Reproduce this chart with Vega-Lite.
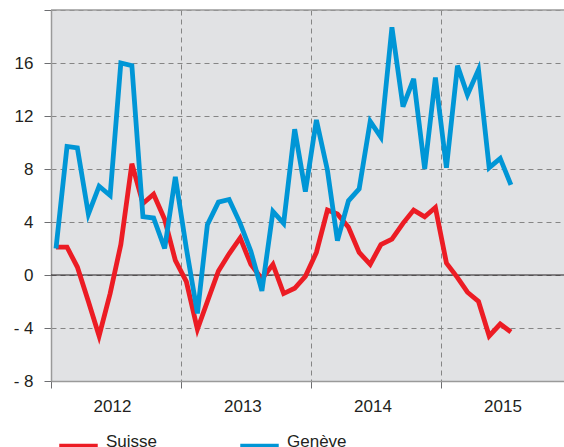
{
  "$schema": "https://vega.github.io/schema/vega-lite/v6.json",
  "width": 513,
  "height": 371,
  "autosize": "none",
  "padding": {"left": 51, "top": 10, "right": 0, "bottom": 66},
  "background": "white",
  "config": {"view": {"fill": "#e1e2e4", "stroke": null}, "font": "Liberation Sans"},
  "data": {"values": [
    {"date": "2012-01-15", "series": "Suisse", "value": 2.1},
    {"date": "2012-02-15", "series": "Suisse", "value": 2.1},
    {"date": "2012-03-15", "series": "Suisse", "value": 0.6},
    {"date": "2012-04-15", "series": "Suisse", "value": -2.0},
    {"date": "2012-05-15", "series": "Suisse", "value": -4.6},
    {"date": "2012-06-15", "series": "Suisse", "value": -1.4},
    {"date": "2012-07-15", "series": "Suisse", "value": 2.3},
    {"date": "2012-08-15", "series": "Suisse", "value": 8.4},
    {"date": "2012-09-15", "series": "Suisse", "value": 5.4},
    {"date": "2012-10-15", "series": "Suisse", "value": 6.1},
    {"date": "2012-11-15", "series": "Suisse", "value": 4.2},
    {"date": "2012-12-15", "series": "Suisse", "value": 1.1},
    {"date": "2013-01-15", "series": "Suisse", "value": -0.5},
    {"date": "2013-02-15", "series": "Suisse", "value": -4.1},
    {"date": "2013-03-15", "series": "Suisse", "value": -2.0},
    {"date": "2013-04-15", "series": "Suisse", "value": 0.3},
    {"date": "2013-05-15", "series": "Suisse", "value": 1.6},
    {"date": "2013-06-15", "series": "Suisse", "value": 2.8},
    {"date": "2013-07-15", "series": "Suisse", "value": 0.8},
    {"date": "2013-08-15", "series": "Suisse", "value": -0.3},
    {"date": "2013-09-15", "series": "Suisse", "value": 0.8},
    {"date": "2013-10-15", "series": "Suisse", "value": -1.4},
    {"date": "2013-11-15", "series": "Suisse", "value": -1.0},
    {"date": "2013-12-15", "series": "Suisse", "value": -0.1},
    {"date": "2014-01-15", "series": "Suisse", "value": 1.7},
    {"date": "2014-02-15", "series": "Suisse", "value": 4.9},
    {"date": "2014-03-15", "series": "Suisse", "value": 4.6},
    {"date": "2014-04-15", "series": "Suisse", "value": 3.6},
    {"date": "2014-05-15", "series": "Suisse", "value": 1.7},
    {"date": "2014-06-15", "series": "Suisse", "value": 0.8},
    {"date": "2014-07-15", "series": "Suisse", "value": 2.3},
    {"date": "2014-08-15", "series": "Suisse", "value": 2.7},
    {"date": "2014-09-15", "series": "Suisse", "value": 3.9},
    {"date": "2014-10-15", "series": "Suisse", "value": 4.9},
    {"date": "2014-11-15", "series": "Suisse", "value": 4.4},
    {"date": "2014-12-15", "series": "Suisse", "value": 5.1},
    {"date": "2015-01-15", "series": "Suisse", "value": 0.9},
    {"date": "2015-02-15", "series": "Suisse", "value": -0.2},
    {"date": "2015-03-15", "series": "Suisse", "value": -1.3},
    {"date": "2015-04-15", "series": "Suisse", "value": -2.0},
    {"date": "2015-05-15", "series": "Suisse", "value": -4.6},
    {"date": "2015-06-15", "series": "Suisse", "value": -3.7},
    {"date": "2015-07-15", "series": "Suisse", "value": -4.3},
    {"date": "2012-01-15", "series": "Genève", "value": 2.0},
    {"date": "2012-02-15", "series": "Genève", "value": 9.7},
    {"date": "2012-03-15", "series": "Genève", "value": 9.6},
    {"date": "2012-04-15", "series": "Genève", "value": 4.6},
    {"date": "2012-05-15", "series": "Genève", "value": 6.7},
    {"date": "2012-06-15", "series": "Genève", "value": 6.0},
    {"date": "2012-07-15", "series": "Genève", "value": 16.0},
    {"date": "2012-08-15", "series": "Genève", "value": 15.8},
    {"date": "2012-09-15", "series": "Genève", "value": 4.4},
    {"date": "2012-10-15", "series": "Genève", "value": 4.3},
    {"date": "2012-11-15", "series": "Genève", "value": 2.0},
    {"date": "2012-12-15", "series": "Genève", "value": 7.4},
    {"date": "2013-01-15", "series": "Genève", "value": 2.0},
    {"date": "2013-02-15", "series": "Genève", "value": -2.9},
    {"date": "2013-03-15", "series": "Genève", "value": 3.8},
    {"date": "2013-04-15", "series": "Genève", "value": 5.5},
    {"date": "2013-05-15", "series": "Genève", "value": 5.7},
    {"date": "2013-06-15", "series": "Genève", "value": 3.9},
    {"date": "2013-07-15", "series": "Genève", "value": 1.8},
    {"date": "2013-08-15", "series": "Genève", "value": -1.2},
    {"date": "2013-09-15", "series": "Genève", "value": 4.8},
    {"date": "2013-10-15", "series": "Genève", "value": 3.9},
    {"date": "2013-11-15", "series": "Genève", "value": 11.0},
    {"date": "2013-12-15", "series": "Genève", "value": 6.3},
    {"date": "2014-01-15", "series": "Genève", "value": 11.7},
    {"date": "2014-02-15", "series": "Genève", "value": 7.9},
    {"date": "2014-03-15", "series": "Genève", "value": 2.6},
    {"date": "2014-04-15", "series": "Genève", "value": 5.6},
    {"date": "2014-05-15", "series": "Genève", "value": 6.5},
    {"date": "2014-06-15", "series": "Genève", "value": 11.6},
    {"date": "2014-07-15", "series": "Genève", "value": 10.4},
    {"date": "2014-08-15", "series": "Genève", "value": 18.7},
    {"date": "2014-09-15", "series": "Genève", "value": 12.7},
    {"date": "2014-10-15", "series": "Genève", "value": 14.8},
    {"date": "2014-11-15", "series": "Genève", "value": 8.0},
    {"date": "2014-12-15", "series": "Genève", "value": 14.9},
    {"date": "2015-01-15", "series": "Genève", "value": 8.1},
    {"date": "2015-02-15", "series": "Genève", "value": 15.8},
    {"date": "2015-03-15", "series": "Genève", "value": 13.6},
    {"date": "2015-04-15", "series": "Genève", "value": 15.5},
    {"date": "2015-05-15", "series": "Genève", "value": 8.1},
    {"date": "2015-06-15", "series": "Genève", "value": 8.8},
    {"date": "2015-07-15", "series": "Genève", "value": 6.8}
  ]},
  "layer": [
    {
      "data": {"values": [{"v": 0}]},
      "mark": {"type": "rule", "color": "#231f20", "strokeWidth": 1},
      "encoding": {"y": {"field": "v", "type": "quantitative"}}
    },
    {
      "data": {"values": [{"v": 20}]},
      "mark": {"type": "rule", "color": "#9a9a9a", "strokeWidth": 1.5},
      "encoding": {"y": {"field": "v", "type": "quantitative"}}
    },
    {
      "mark": {"type": "line", "strokeWidth": 4.8},
      "encoding": {
        "x": {
          "field": "date",
          "type": "temporal",
          "scale": {
            "type": "utc",
            "domain": [
              {"year": 2012, "month": 1, "date": 1, "utc": true},
              {"year": 2015, "month": 12, "date": 11, "utc": true}
            ]
          },
          "axis": {
            "title": null,
            "values": [
              {"year": 2012, "month": 1, "date": 1, "utc": true},
              {"year": 2013, "month": 1, "date": 1, "utc": true},
              {"year": 2014, "month": 1, "date": 1, "utc": true},
              {"year": 2015, "month": 1, "date": 1, "utc": true}
            ],
            "labelExpr": "utcFormat(datum.value, '%Y')",
            "labelOffset": 61,
            "labelFlush": false,
            "labelOverlap": false,
            "labelBound": false,
            "labelPadding": 10,
            "labelFont": "Liberation Sans",
            "labelFontSize": 17,
            "labelColor": "#231f20",
            "tickSize": 7,
            "tickColor": "#6d6e71",
            "domainColor": "#9a9a9a",
            "domainWidth": 1.5,
            "grid": true,
            "gridColor": "#858585",
            "gridDash": [5, 4],
            "gridWidth": 1
          }
        },
        "y": {
          "field": "value",
          "type": "quantitative",
          "scale": {"domain": [-8, 20], "nice": false, "zero": false},
          "axis": {
            "title": null,
            "values": [-8, -4, 0, 4, 8, 12, 16, 20],
            "labelExpr": "datum.value == 20 ? '' : (datum.value < 0 ? '- ' + abs(datum.value) : datum.label)",
            "labelPadding": 11,
            "labelFont": "Liberation Sans",
            "labelFontSize": 17,
            "labelColor": "#231f20",
            "tickSize": 7,
            "tickColor": "#6d6e71",
            "domainColor": "#9a9a9a",
            "domainWidth": 1.5,
            "grid": true,
            "gridColor": "#858585",
            "gridDash": [5, 4],
            "gridWidth": 1
          }
        },
        "color": {
          "field": "series",
          "type": "nominal",
          "sort": ["Suisse", "Genève"],
          "scale": {"domain": ["Suisse", "Genève"], "range": ["#ec1c24", "#0096d6"]},
          "legend": {
            "title": null,
            "orient": "none",
            "legendX": 5,
            "legendY": 414,
            "direction": "horizontal",
            "symbolType": "stroke",
            "symbolSize": 1480,
            "symbolStrokeWidth": 6,
            "labelFont": "Liberation Sans",
            "labelFontSize": 17,
            "labelColor": "#231f20",
            "labelBaseline": "alphabetic",
            "labelOffset": 5,
            "columnPadding": 70
          }
        }
      }
    }
  ]
}
